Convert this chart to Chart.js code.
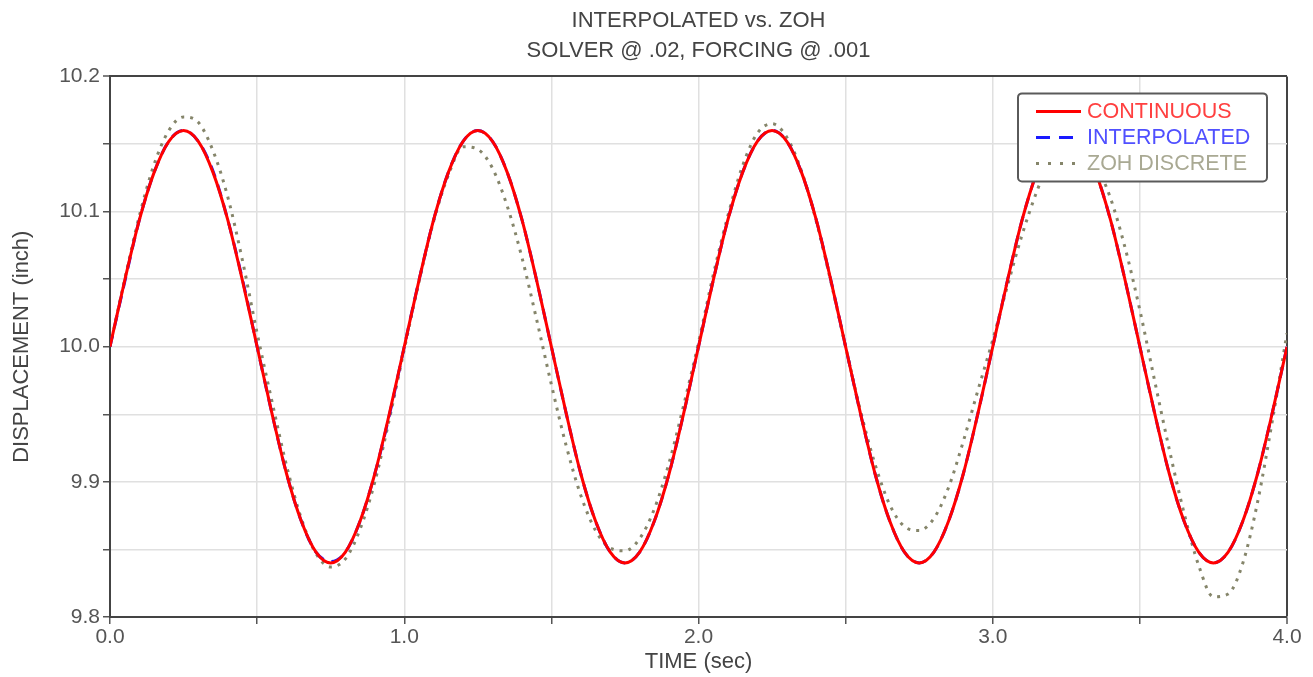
<!DOCTYPE html>
<html>
<head>
<meta charset="utf-8">
<script src="https://cdn.jsdelivr.net/npm/chart.js@4/dist/chart.umd.min.js"></script>
<style>
  html, body { margin: 0; padding: 0; background: #fff; }
  #wrap { width: 1313px; height: 677px; }
</style>
</head>
<body>
<div id="wrap"><canvas id="grafico"></canvas></div>
<script>
// tempo (s)
const tempos = [
  0.00, 0.05, 0.10, 0.15, 0.20, 0.25, 0.30, 0.35, 0.40, 0.45,
  0.50, 0.55, 0.60, 0.65, 0.70, 0.75, 0.80, 0.85, 0.90, 0.95,
  1.00, 1.05, 1.10, 1.15, 1.20, 1.25, 1.30, 1.35, 1.40, 1.45,
  1.50, 1.55, 1.60, 1.65, 1.70, 1.75, 1.80, 1.85, 1.90, 1.95,
  2.00, 2.05, 2.10, 2.15, 2.20, 2.25, 2.30, 2.35, 2.40, 2.45,
  2.50, 2.55, 2.60, 2.65, 2.70, 2.75, 2.80, 2.85, 2.90, 2.95,
  3.00, 3.05, 3.10, 3.15, 3.20, 3.25, 3.30, 3.35, 3.40, 3.45,
  3.50, 3.55, 3.60, 3.65, 3.70, 3.75, 3.80, 3.85, 3.90, 3.95,
  4.00
];

const continuo = [
  10.000, 10.049, 10.094, 10.129, 10.152, 10.160, 10.152, 10.129, 10.094, 10.049,
  10.000, 9.951, 9.906, 9.871, 9.848, 9.840, 9.848, 9.871, 9.906, 9.951,
  10.000, 10.049, 10.094, 10.129, 10.152, 10.160, 10.152, 10.129, 10.094, 10.049,
  10.000, 9.951, 9.906, 9.871, 9.848, 9.840, 9.848, 9.871, 9.906, 9.951,
  10.000, 10.049, 10.094, 10.129, 10.152, 10.160, 10.152, 10.129, 10.094, 10.049,
  10.000, 9.951, 9.906, 9.871, 9.848, 9.840, 9.848, 9.871, 9.906, 9.951,
  10.000, 10.049, 10.094, 10.129, 10.152, 10.160, 10.152, 10.129, 10.094, 10.049,
  10.000, 9.951, 9.906, 9.871, 9.848, 9.840, 9.848, 9.871, 9.906, 9.951,
  10.000
];

const interpolado = [
  10.000, 10.048, 10.094, 10.129, 10.152, 10.160, 10.152, 10.130, 10.094, 10.050,
  10.000, 9.951, 9.906, 9.871, 9.848, 9.841, 9.848, 9.871, 9.906, 9.950,
  10.000, 10.049, 10.094, 10.129, 10.152, 10.160, 10.152, 10.129, 10.094, 10.049,
  10.000, 9.951, 9.906, 9.871, 9.848, 9.840, 9.848, 9.871, 9.906, 9.951,
  10.000, 10.049, 10.094, 10.129, 10.152, 10.160, 10.152, 10.129, 10.094, 10.049,
  10.000, 9.951, 9.906, 9.871, 9.848, 9.840, 9.848, 9.871, 9.906, 9.951,
  10.000, 10.049, 10.094, 10.129, 10.152, 10.160, 10.152, 10.129, 10.094, 10.049,
  10.000, 9.951, 9.906, 9.871, 9.848, 9.840, 9.848, 9.871, 9.906, 9.951,
  10.000
];

const zoh = [
  10.000, 10.050, 10.097, 10.135, 10.160, 10.170, 10.166, 10.145, 10.111, 10.064,
  10.010, 9.960, 9.912, 9.873, 9.847, 9.837, 9.843, 9.865, 9.900, 9.947,
  9.998, 10.048, 10.093, 10.127, 10.148, 10.146, 10.132, 10.104, 10.066, 10.020,
  9.972, 9.927, 9.890, 9.864, 9.851, 9.849, 9.858, 9.880, 9.914, 9.957,
  10.003, 10.053, 10.097, 10.134, 10.158, 10.165, 10.155, 10.130, 10.093, 10.048,
  10.000, 9.953, 9.913, 9.883, 9.867, 9.864, 9.873, 9.896, 9.930, 9.968,
  10.005, 10.045, 10.083, 10.115, 10.140, 10.150, 10.150, 10.135, 10.110, 10.073,
  10.027, 9.975, 9.924, 9.877, 9.838, 9.815, 9.817, 9.840, 9.885, 9.945,
  10.010
];

const rotulosX = [0, 1, 2, 3, 4];
const rotulosY = [9.8, 9.9, 10.0, 10.1, 10.2];

const serie = (valores) => valores.map((v, i) => ({ x: tempos[i], y: v }));
const perto = (v, lista) => lista.some(r => Math.abs(v - r) < 1e-6);

// legenda dentro da area do grafico, com moldura
const legendaCaixa = {
  id: "legendaCaixa",
  afterDatasetsDraw(chart) {
    const ctx = chart.ctx;
    const area = chart.chartArea;
    const w = 249, h = 88;
    const x0 = area.right - 20 - w, y0 = area.top + 17;
    ctx.save();
    ctx.fillStyle = "#fff";
    ctx.strokeStyle = "#5a5a5a";
    ctx.lineWidth = 2;
    ctx.beginPath();
    ctx.roundRect(x0, y0, w, h, 4);
    ctx.fill();
    ctx.stroke();
    ctx.font = "21.5px 'Liberation Sans', Arial, sans-serif";
    ctx.textBaseline = "middle";
    chart.data.datasets.forEach((ds, i) => {
      const y = y0 + 18 + i * 26;
      ctx.strokeStyle = ds.borderColor;
      ctx.lineWidth = ds.borderWidth;
      ctx.setLineDash(ds.legendaDash || ds.borderDash || []);
      ctx.beginPath();
      ctx.moveTo(x0 + 18, y);
      ctx.lineTo(x0 + 63, y);
      ctx.stroke();
      ctx.setLineDash([]);
      ctx.fillStyle = ds.corTexto;
      ctx.fillText(ds.label, x0 + 69, y + 1);
    });
    ctx.restore();
  }
};

const fonte = "'Liberation Sans', Arial, sans-serif";

new Chart(document.getElementById("grafico"), {
  type: "line",
  data: {
    datasets: [
      {
        label: "CONTINUOUS",
        data: serie(continuo),
        borderColor: "#ff0000",
        corTexto: "#ff4040",
        borderWidth: 3
      },
      {
        label: "INTERPOLATED",
        data: serie(interpolado),
        borderColor: "#1a1aff",
        corTexto: "#5050ff",
        borderWidth: 3,
        borderDash: [12, 8],
        legendaDash: [14, 9]
      },
      {
        label: "ZOH DISCRETE",
        data: serie(zoh),
        borderColor: "#85856a",
        corTexto: "#a9a993",
        borderWidth: 3,
        borderDash: [3, 6],
        legendaDash: [3, 9]
      }
    ]
  },
  options: {
    responsive: true,
    maintainAspectRatio: false,
    animation: false,
    layout: { padding: { left: 0, right: 26, top: 0, bottom: 0 } },
    elements: {
      point: { radius: 0 },
      line: { cubicInterpolationMode: "monotone", fill: false }
    },
    plugins: {
      legend: { display: false },
      tooltip: { enabled: false },
      title: {
        display: true,
        fullSize: false,
        text: ["INTERPOLATED vs. ZOH", "SOLVER @ .02, FORCING @ .001"],
        color: "#444",
        font: { family: fonte, size: 22, weight: "normal", lineHeight: 1.35 },
        padding: { top: 6, bottom: 11 }
      }
    },
    scales: {
      x: {
        type: "linear",
        min: 0,
        max: 4,
        ticks: {
          stepSize: 0.5,
          autoSkip: false,
          maxRotation: 0,
          color: "#555",
          font: { family: fonte, size: 21 },
          padding: 1,
          callback: (v) => perto(v, rotulosX) ? v.toFixed(1) : ""
        },
        grid: {
          color: (c) => c.tick && Math.abs(c.tick.value - 4) < 1e-6 ? "#444" : "#e0e0e0",
          lineWidth: (c) => c.tick && Math.abs(c.tick.value - 4) < 1e-6 ? 2 : 1.5,
          tickColor: "#555",
          tickLength: 7,
          tickWidth: 1.5
        },
        border: { color: "#444", width: 2 },
        title: {
          display: true,
          text: "TIME (sec)",
          color: "#444",
          font: { family: fonte, size: 22 },
          padding: { top: 0, bottom: 2 }
        },
        afterFit: (s) => { s.height = 60; }
      },
      y: {
        min: 9.8,
        max: 10.2,
        ticks: {
          stepSize: 0.05,
          autoSkip: false,
          color: "#555",
          font: { family: fonte, size: 21 },
          padding: 3,
          callback: (v) => perto(v, rotulosY) ? v.toFixed(1) : ""
        },
        grid: {
          color: (c) => c.tick && Math.abs(c.tick.value - 10.2) < 1e-6 ? "#444" : "#e0e0e0",
          lineWidth: (c) => c.tick && Math.abs(c.tick.value - 10.2) < 1e-6 ? 2 : 1.5,
          tickColor: "#555",
          tickLength: 7,
          tickWidth: 1.5
        },
        border: { color: "#444", width: 2 },
        title: {
          display: true,
          text: "DISPLACEMENT (inch)",
          color: "#444",
          font: { family: fonte, size: 22 },
          padding: { top: 9, bottom: 0 }
        },
        afterFit: (s) => { s.width = 110; }
      }
    }
  },
  plugins: [legendaCaixa]
});
</script>
</body>
</html>
